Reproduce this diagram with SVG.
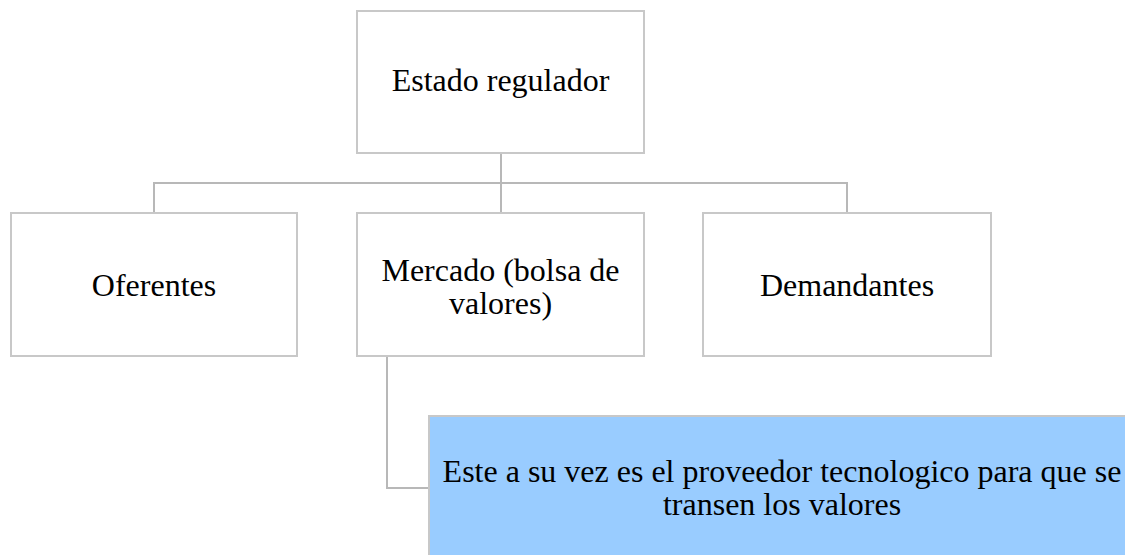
<svg xmlns="http://www.w3.org/2000/svg" width="1125" height="555" viewBox="0 0 1125 555">
<style>
.box{fill:#ffffff;stroke:#c8c8c8;stroke-width:2}
.blue{fill:#99ccff;stroke:#c8c8c8;stroke-width:2}
.conn{fill:none;stroke:#b8b8b8;stroke-width:2}
text{font-family:"Liberation Serif","Times New Roman",serif;font-size:32px;fill:#000;text-anchor:middle}
</style>
<rect width="1125" height="555" fill="#ffffff"/>
<g id="connectors">
<path class="conn" d="M501,153 V212"/>
<path class="conn" d="M154,212 V183 H847 V212"/>
<path class="conn" d="M387,356 V488 H429"/>
</g>
<g id="estado">
<rect class="box" x="357" y="11" width="287" height="142"/>
<text x="500.5" y="91">Estado regulador</text>
</g>
<g id="oferentes">
<rect class="box" x="11" y="213" width="286" height="143"/>
<text x="154" y="296">Oferentes</text>
</g>
<g id="mercado">
<rect class="box" x="357" y="213" width="287" height="143"/>
<text x="500.5" y="281">Mercado (bolsa de</text>
<text x="500.5" y="314">valores)</text>
</g>
<g id="demandantes">
<rect class="box" x="703" y="213" width="288" height="143"/>
<text x="847" y="296">Demandantes</text>
</g>
<g id="proveedor">
<rect class="blue" x="429" y="416" width="710" height="150"/>
<text x="782" y="482">Este a su vez es el proveedor tecnologico para que se</text>
<text x="782" y="515">transen los valores</text>
</g>
</svg>
